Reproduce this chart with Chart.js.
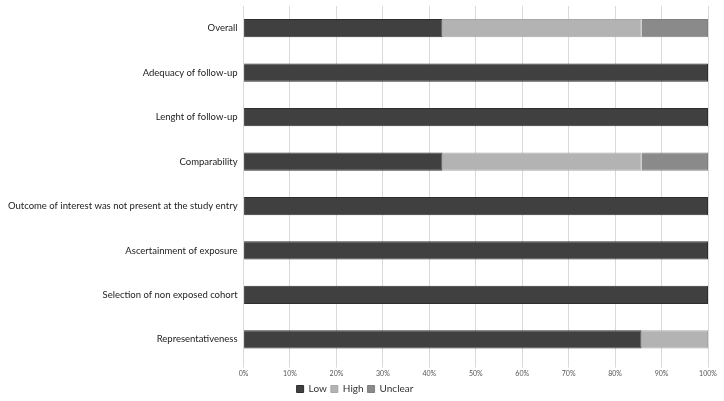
<!DOCTYPE html>
<html>
<head>
<meta charset="utf-8">
<script src="https://cdn.jsdelivr.net/npm/chart.js@4"></script>
<style>
  html, body { margin: 0; padding: 0; background: #fff; }
  #wrap { width: 724px; height: 401px; }
</style>
</head>
<body>
<div id="wrap"><canvas id="chart"></canvas></div>
<script>
const categories = [
  'Overall',
  'Adequacy of follow-up',
  'Lenght of follow-up',
  'Comparability',
  'Outcome of interest was not present at the study entry',
  'Ascertainment of exposure',
  'Selection of non exposed cohort',
  'Representativeness'
];
const lowValues     = [42.86, 100, 100, 42.86, 100, 100, 100, 85.71];
const highValues    = [42.86, 0, 0, 42.86, 0, 0, 0, 14.29];
const unclearValues = [14.28, 0, 0, 14.28, 0, 0, 0, 0];
const xTicks = [0, 10, 20, 30, 40, 50, 60, 70, 80, 90, 100];

const ctx = document.getElementById('chart').getContext('2d');

function bar(label, values, color, border) {
  return {
    label: label,
    data: values,
    backgroundColor: color,
    borderColor: border,
    borderWidth: 1,
    barPercentage: 0.41,
    categoryPercentage: 1.0
  };
}

const data = {
  labels: categories,
  datasets: [
    bar('Low', lowValues, '#404040', '#2e2e2e'),
    bar('High', highValues, '#b3b3b3', '#a8a8a8'),
    bar('Unclear', unclearValues, '#8a8a8a', '#808080')
  ]
};

const config = {
  type: 'bar',
  data: data,
  options: {
    indexAxis: 'y',
    responsive: true,
    maintainAspectRatio: false,
    animation: false,
    layout: { padding: { top: 6, right: 16, left: 2, bottom: -3 } },
    plugins: {
      legend: {
        position: 'bottom',
        labels: {
          boxWidth: 7,
          boxHeight: 7,
          padding: 4,
          color: '#333',
          font: { family: 'Lato', size: 10 }
        }
      },
      tooltip: { enabled: false }
    },
    scales: {
      x: {
        stacked: true,
        min: 0,
        max: 100,
        afterBuildTicks: function(axis) {
          axis.ticks = xTicks.map(v => ({ value: v }));
        },
        ticks: {
          callback: v => v + '%',
          color: '#555',
          font: { family: 'Lato', size: 7 },
          maxRotation: 0,
          padding: 2
        },
        grid: { color: '#d9d9d9', tickLength: 6, drawTicks: true },
        border: { display: false }
      },
      y: {
        stacked: true,
        afterFit: function(scale) {
          scale.paddingTop = 0;
          scale.paddingBottom = 0;
        },
        ticks: {
          color: '#222',
          font: { family: 'Lato', size: 9.5 },
          padding: 6
        },
        grid: { display: false, drawTicks: false },
        border: { display: true, color: '#d9d9d9' }
      }
    }
  }
};

const myChart = new Chart(ctx, config);
</script>
</body>
</html>
